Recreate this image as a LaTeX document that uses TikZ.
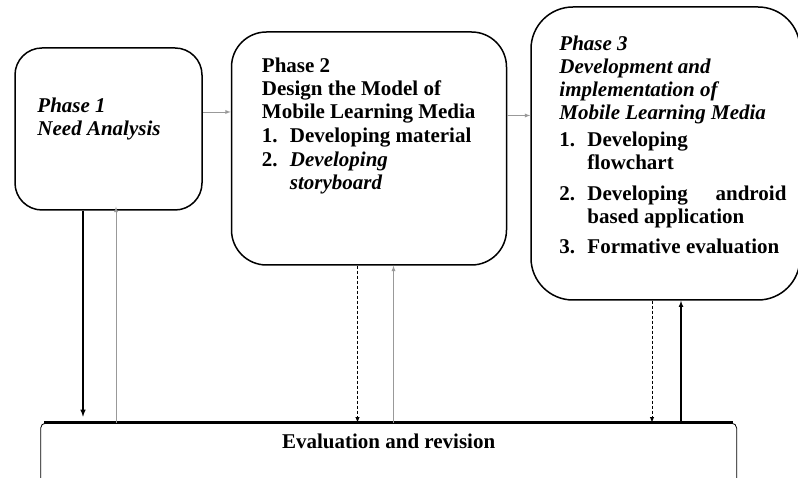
\documentclass[tikz,border=0pt]{standalone}
\usepackage{fontspec}
\setmainfont{Liberation Serif}
\usetikzlibrary{positioning}
\newcommand{\stepitem}[3]{\par\vspace{#1}\noindent\hangindent=28pt\hangafter=1\makebox[28pt][l]{#2}#3}

\begin{document}
\begin{tikzpicture}[x=1pt,y=1pt]
\tikzstyle{phase}=[rectangle, draw=black, line width=1.5pt, inner sep=0pt]
\tikzstyle{txt}=[inner sep=0pt, align=justify, font=\fontsize{21}{23}\selectfont\bfseries]
\tikzstyle{connect}=[-latex, line width=1.4pt]
\tikzstyle{back}=[-latex, line width=0.9pt, draw=black!40]
\tikzstyle{dashconnect}=[-latex, densely dashed, line width=0.9pt]
\useasboundingbox (0,0) rectangle (798,478);
  % phase 1
  \node[phase, rounded corners=27pt, minimum width=187pt, minimum height=162pt] (phase1) at (108.5,349) {};
  % phase 2
  \node[phase, rounded corners=35pt, minimum width=275pt, minimum height=233pt] (phase2) [right=28pt of phase1.north east, anchor=north west, yshift=16pt] {};
  % phase 3
  \node[phase, rounded corners=42pt, minimum width=269pt, minimum height=293pt] (phase3) [right=23pt of phase2.north east, anchor=north west, yshift=25pt] {};
  % evaluation
  \node[rectangle, draw=black, line width=0.8pt, rounded corners=5pt, minimum width=696pt, minimum height=86pt] (eval) [below=212pt of phase1.south west, anchor=north west, xshift=26pt] {};
  \draw[line width=3pt] ([xshift=4pt]eval.north west) -- ([xshift=-4pt]eval.north east);
  % texts
  \node[txt, text width=150pt] (phase1txt) [below right=50pt and 23pt of phase1.north west] {%
    \itshape Phase 1\\ Need Analysis};
  \node[txt, text width=217pt] (phase2txt) [below right=26pt and 31pt of phase2.north west] {%
    \noindent Phase 2\\ Design the Model of\\ Mobile Learning Media
    \stepitem{1pt}{1.}{Developing material}
    \stepitem{1pt}{2.}{\itshape Developing\\ storyboard}\par};
  \node[txt, text width=227pt] (phase3txt) [below right=29pt and 29pt of phase3.north west] {%
    \noindent\itshape Phase 3\\ Development and\\ implementation of\\ Mobile Learning Media\upshape
    \stepitem{4pt}{1.}{Developing\\ flowchart}
    \stepitem{8pt}{2.}{Developing android \linebreak based application}
    \stepitem{7pt}{3.}{Formative evaluation}\par};
  \node[txt] (evaltxt) [below=11pt of eval.north] {Evaluation and revision};
  % connections
  \coordinate (e1) at ([yshift=17pt]phase1.east);
  \coordinate (e2) at ([yshift=33pt]phase2.east);
  \coordinate (d1) at ([xshift=-25.5pt]phase1.south);
  \coordinate (u1) at ([xshift=7.5pt]phase1.south);
  \coordinate (d2) at ([xshift=-11.5pt]phase2.south);
  \coordinate (u2) at ([xshift=24.5pt]phase2.south);
  \coordinate (d3) at ([xshift=-13.5pt]phase3.south);
  \coordinate (u3) at ([xshift=15.5pt]phase3.south);
  \path (e1) edge [back] (e1 -| phase2.west)
        (e2) edge [back] (e2 -| phase3.west)
        (d1) edge [connect, shorten >=6pt] (d1 |- eval.north)
        (u1 |- eval.north) edge [back, shorten >=-4pt] (u1)
        (d2) edge [dashconnect] (d2 |- eval.north)
        (u2 |- eval.north) edge [back] (u2)
        (d3) edge [dashconnect] (d3 |- eval.north)
        (u3 |- eval.north) edge [connect, line width=1.1pt] (u3);
\end{tikzpicture}
\end{document}
